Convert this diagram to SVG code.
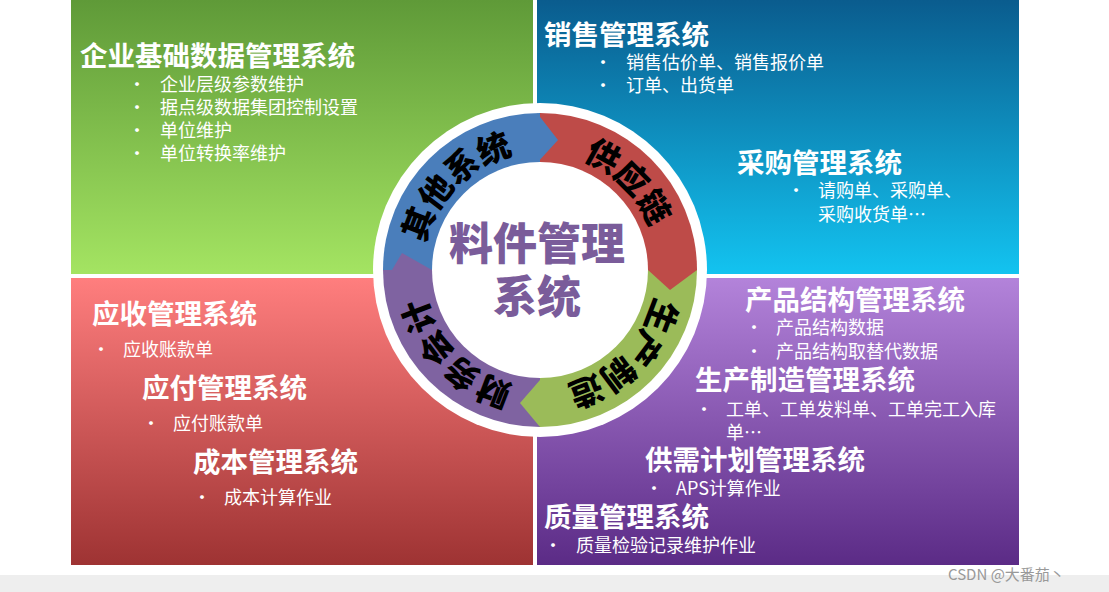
<svg xmlns="http://www.w3.org/2000/svg" width="1109" height="592" viewBox="0 0 1109 592">
<defs>
<linearGradient id="gTL" x1="0" y1="0" x2="0" y2="1"><stop offset="0" stop-color="#5f9a38"/><stop offset="1" stop-color="#a4e462"/></linearGradient>
<linearGradient id="gTR" x1="0" y1="0" x2="0" y2="1"><stop offset="0" stop-color="#0a5c8e"/><stop offset="1" stop-color="#13c3f0"/></linearGradient>
<linearGradient id="gBL" x1="0" y1="0" x2="0" y2="1"><stop offset="0" stop-color="#ff7e7e"/><stop offset="1" stop-color="#9e3333"/></linearGradient>
<linearGradient id="gBR" x1="0" y1="0" x2="0" y2="1"><stop offset="0" stop-color="#b383da"/><stop offset="1" stop-color="#5b2b86"/></linearGradient>
<path id="ring" d="M540,388 A118,118 0 0 1 422,270 A118,118 0 0 1 540,152 A118,118 0 0 1 658,270 A118,118 0 0 1 540,388"/>
</defs>
<style>
.t{font-family:"Noto Sans CJK SC","Liberation Sans",sans-serif;fill:#fff;font-weight:bold;font-size:27.5px}
.b{font-family:"Noto Sans CJK SC","Liberation Sans",sans-serif;fill:#fff;font-size:18px}
.r{font-family:"Noto Sans CJK SC",sans-serif;font-weight:900;font-size:33px;fill:#000}
</style>
<rect width="1109" height="592" fill="#fff"/>
<rect x="0" y="575" width="1109" height="17" fill="#eeeeee"/>
<g id="quadrants">
<rect x="71" y="0" width="462" height="274" fill="url(#gTL)"/>
<rect x="537" y="0" width="482" height="274" fill="url(#gTR)"/>
<rect x="71" y="278" width="462" height="287" fill="url(#gBL)"/>
<rect x="537" y="278" width="482" height="287" fill="url(#gBR)"/>
</g>
<g id="n-base">
<text class="t" x="80" y="66">企业基础数据管理系统</text>
<text class="b" x="128" y="91">•</text><text class="b" x="160" y="91">企业层级参数维护</text>
<text class="b" x="128" y="114">•</text><text class="b" x="160" y="114">据点级数据集团控制设置</text>
<text class="b" x="128" y="137">•</text><text class="b" x="160" y="137">单位维护</text>
<text class="b" x="128" y="160">•</text><text class="b" x="160" y="160">单位转换率维护</text>
</g>
<g id="n-sales">
<text class="t" x="544" y="45">销售管理系统</text>
<text class="b" x="594" y="69">•</text><text class="b" x="626" y="69">销售估价单、销售报价单</text>
<text class="b" x="594" y="92">•</text><text class="b" x="626" y="92">订单、出货单</text>
</g>
<g id="n-purchase">
<text class="t" x="737" y="173">采购管理系统</text>
<text class="b" x="787" y="197">•</text><text class="b" x="818" y="197">请购单、采购单、</text>
<text class="b" x="818" y="221">采购收货单…</text>
</g>
<g id="n-ar">
<text class="t" x="92" y="324">应收管理系统</text>
<text class="b" x="92" y="356">•</text><text class="b" x="123" y="356">应收账款单</text>
</g>
<g id="n-ap">
<text class="t" x="142" y="398">应付管理系统</text>
<text class="b" x="142" y="430">•</text><text class="b" x="173" y="430">应付账款单</text>
</g>
<g id="n-cost">
<text class="t" x="193" y="472">成本管理系统</text>
<text class="b" x="193" y="504">•</text><text class="b" x="224" y="504">成本计算作业</text>
</g>
<g id="n-bom">
<text class="t" x="745" y="310">产品结构管理系统</text>
<text class="b" x="745" y="334">•</text><text class="b" x="776" y="334">产品结构数据</text>
<text class="b" x="745" y="358">•</text><text class="b" x="776" y="358">产品结构取替代数据</text>
</g>
<g id="n-mfg">
<text class="t" x="695" y="390">生产制造管理系统</text>
<text class="b" x="695" y="416">•</text><text class="b" x="726" y="416">工单、工单发料单、工单完工入库</text>
<text class="b" x="726" y="439">单…</text>
</g>
<g id="n-plan">
<text class="t" x="645" y="470">供需计划管理系统</text>
<text class="b" x="645" y="495">•</text><text class="b" x="676" y="495">APS计算作业</text>
</g>
<g id="n-qc">
<text class="t" x="544" y="527">质量管理系统</text>
<text class="b" x="544" y="552">•</text><text class="b" x="576" y="552">质量检验记录维护作业</text>
</g>
<g id="n-center">
<circle cx="540" cy="270" r="167" fill="#fff"/>
<path d="M540,270 L383,270 A157,157 0 0 1 540,113 Z" fill="#4a7ebb"/>
<path d="M540,270 L540,113 A157,157 0 0 1 697,270 Z" fill="#be4b48"/>
<path d="M540,270 L697,270 A157,157 0 0 1 540,427 Z" fill="#9bbb59"/>
<path d="M540,270 L540,427 A157,157 0 0 1 383,270 Z" fill="#7f63a1"/>
<polygon points="537,113 558,140 537,163" fill="#4a7ebb"/>
<polygon points="648,270 697,270 670,290" fill="#be4b48"/>
<polygon points="540,380 540,427 520,403" fill="#9bbb59"/>
<polygon points="392,270 432,270 402,253" fill="#7f63a1"/>
<circle cx="540" cy="270" r="108" fill="#fff"/>
<text font-family="Noto Sans CJK SC,sans-serif" font-weight="900" font-size="44" fill="#7a5c9a" text-anchor="middle" x="537" y="260">料件管理</text>
<text font-family="Noto Sans CJK SC,sans-serif" font-weight="900" font-size="44" fill="#7a5c9a" text-anchor="middle" x="537" y="313">系统</text>
<text class="r" text-anchor="middle"><textPath href="#ring" startOffset="12.5%">财务会计</textPath></text>
<text class="r" text-anchor="middle"><textPath href="#ring" startOffset="37.5%">其他系统</textPath></text>
<text class="r" text-anchor="middle"><textPath href="#ring" startOffset="62.5%">供应链</textPath></text>
<text class="r" text-anchor="middle"><textPath href="#ring" startOffset="87.5%">生产制造</textPath></text>
</g>
<g id="connectors"/>
<text x="948" y="580" font-family="Noto Sans CJK SC,sans-serif" font-size="15" fill="#999">CSDN @大番茄丶</text>
</svg>
